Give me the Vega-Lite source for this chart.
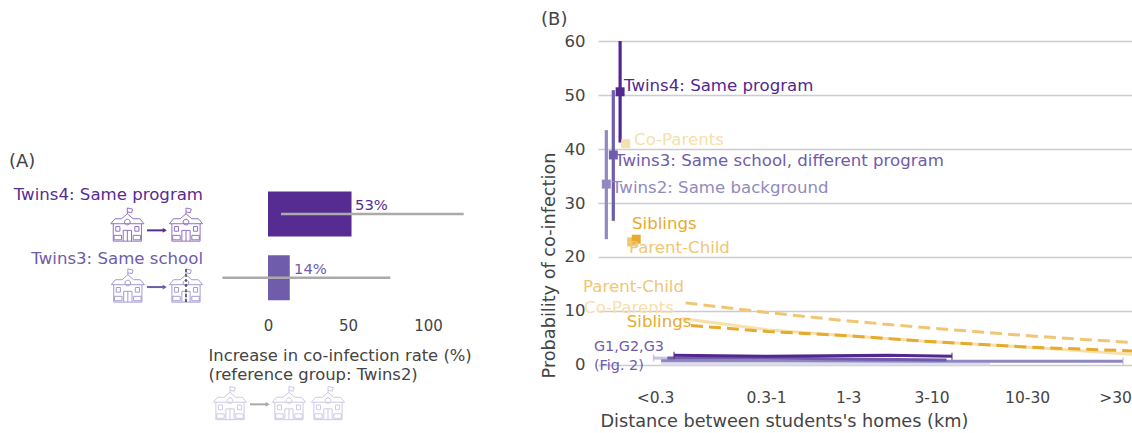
{"$schema":"https://vega.github.io/schema/vega-lite/v6.json","padding":0,"spacing":0,"background":"white","config":{"view":{"stroke":null},"font":"DejaVu Sans","text":{"font":"DejaVu Sans"},"axis":{"labelFont":"DejaVu Sans","titleFont":"DejaVu Sans"}},"hconcat":[{"width":540,"height":433,"layer":[
{"data":{"values":[{"group":"Twins4","start":0,"value":52.2,"low":0.647,"high":1.353},{"group":"Twins3","start":0,"value":13.6,"low":-0.353,"high":0.353}]},"mark":{"type":"bar","clip":false},"encoding":{"x":{"field":"start","type":"quantitative","scale":{"domain":[-167.5,170],"nice":false,"zero":false},"axis":{"values":[0,50,100],"grid":false,"domain":false,"ticks":false,"offset":-115,"labelPadding":0,"labelFontSize":15,"labelColor":"#444","labelBaseline":"top","title":["Increase in co-infection rate (%)","(reference group: Twins2)"],"titleFontSize":16.4,"titleFontWeight":"normal","titleColor":"#444","titleAlign":"left","titleAnchor":"start","titleBaseline":"top","titleLineHeight":19.5,"titleX":208,"titleY":29}},"x2":{"field":"value"},"y":{"field":"low","type":"quantitative","scale":{"domain":[-2.437,4.36],"nice":false,"zero":false},"axis":null},"y2":{"field":"high"},"color":{"field":"group","type":"nominal","scale":{"domain":["Twins4","Twins3"],"range":["#572c92","#6f5cab"]},"legend":null}}},
{"data":{"values":[{"group":"Twins4","low":8.1,"high":122.3,"y":1},{"group":"Twins3","low":-28.5,"high":76.4,"y":0}]},"mark":{"type":"rule","color":"#aaaaaa","strokeWidth":2.5},"encoding":{"x":{"field":"low","type":"quantitative"},"x2":{"field":"high"},"y":{"field":"y","type":"quantitative"}}},
{"data":{"values":[{"icon":"Twins4 from","x":-87.9,"y":0.835,"group":"Twins4"},{"icon":"Twins4 to","x":-51.25,"y":0.835,"group":"Twins4"},{"icon":"Twins3 from","x":-87.6,"y":-0.122,"group":"Twins3"},{"icon":"Twins3 to","x":-51.25,"y":-0.122,"group":"Twins3"},{"icon":"Ref from","x":-23.75,"y":-1.967,"group":"Ref"},{"icon":"Ref to a","x":13.1,"y":-1.967,"group":"Ref"},{"icon":"Ref to b","x":37.5,"y":-1.967,"group":"Ref"}]},"mark":{"type":"point","filled":false,"strokeWidth":1,"opacity":1,"size":1100,"shape":"M-1,-0.05 L-0.75,-0.35 H-0.35 L0,-0.65 L0.35,-0.35 H0.75 L1,-0.05 Z M-0.85,-0.05 V1 H0.85 V-0.05 M-0.25,1 V0.35 H0.25 V1 M0,0.35 V1 M0.17,-0.15 A0.17,0.17 0 1 1 -0.17,-0.15 A0.17,0.17 0 1 1 0.17,-0.15 Z M-0.7,0.12 H-0.45 V0.4 H-0.7 Z M0.45,0.12 H0.7 V0.4 H0.45 Z M-0.8,0.65 H-0.35 V0.92 H-0.8 Z M0.35,0.65 H0.8 V0.92 H0.35 Z M0,-0.65 V-1 L0.32,-0.93 L0.26,-0.72 L0,-0.76"},"encoding":{"x":{"field":"x","type":"quantitative"},"y":{"field":"y","type":"quantitative"},"stroke":{"field":"group","type":"nominal","scale":{"domain":["Twins4","Twins3","Ref"],"range":["#8f73c2","#a39bd2","#cdc9e6"]},"legend":null}}},
{"data":{"values":[{"group":"Twins4","from":-75.6,"to":-64.5,"y":0.744},{"group":"Twins3","from":-75.6,"to":-64.5,"y":-0.146},{"group":"Ref","from":-11.25,"to":-0.2,"y":-1.987}]},"mark":{"type":"rule","strokeWidth":2},"encoding":{"x":{"field":"from","type":"quantitative"},"x2":{"field":"to"},"y":{"field":"y","type":"quantitative"},"color":{"field":"group","type":"nominal","scale":{"domain":["Twins4","Twins3","Ref"],"range":["#572c92","#6f5cab","#aaaaaa"]},"legend":null}}},
{"data":{"values":[{"group":"Twins4","x":-64.5,"y":0.744},{"group":"Twins3","x":-64.5,"y":-0.146},{"group":"Ref","x":-0.2,"y":-1.987}]},"mark":{"type":"point","filled":true,"opacity":1,"shape":"triangle-right","size":22},"encoding":{"x":{"field":"x","type":"quantitative"},"y":{"field":"y","type":"quantitative"},"color":{"field":"group","type":"nominal","scale":{"domain":["Twins4","Twins3","Ref"],"range":["#572c92","#6f5cab","#aaaaaa"]},"legend":null}}},
{"data":{"values":[{"x":-51.25,"top":0.137,"bottom":-0.397}]},"mark":{"type":"rule","color":"black","strokeWidth":1,"strokeDash":[3,2]},"encoding":{"x":{"field":"x","type":"quantitative"},"y":{"field":"top","type":"quantitative"},"y2":{"field":"bottom"}}},
{"data":{"values":[{"label":"Twins4: Same program","group":"Twins4","x":-40.6,"y":1.298},{"label":"Twins3: Same school","group":"Twins3","x":-40.6,"y":0.294}]},"mark":{"type":"text","align":"right","baseline":"middle","fontSize":16.6},"encoding":{"text":{"field":"label"},"x":{"field":"x","type":"quantitative"},"y":{"field":"y","type":"quantitative"},"color":{"field":"group","type":"nominal","scale":{"domain":["Twins4","Twins3"],"range":["#572c92","#6f5cab"]},"legend":null}}},
{"data":{"values":[{"label":"53%","group":"Twins4","x":54.4,"y":1.126},{"label":"14%","group":"Twins3","x":16.25,"y":0.121}]},"mark":{"type":"text","align":"left","baseline":"middle","fontSize":14.8},"encoding":{"text":{"field":"label"},"x":{"field":"x","type":"quantitative"},"y":{"field":"y","type":"quantitative"},"color":{"field":"group","type":"nominal","scale":{"domain":["Twins4","Twins3"],"range":["#572c92","#6f5cab"]},"legend":null}}},
{"data":{"values":[{"label":"(A)","x":-161.9,"y":1.816}]},"mark":{"type":"text","align":"left","baseline":"middle","fontSize":18,"color":"#444"},"encoding":{"text":{"field":"label"},"x":{"field":"x","type":"quantitative"},"y":{"field":"y","type":"quantitative"}}}
],"resolve":{"scale":{"color":"independent"}}},
{"width":534,"height":433,"layer":[
{"data":{"values":[{"group":"G0","series":"band","x":-0.935,"y":0.2},{"group":"G0","series":"band","x":1.0,"y":0.2}]},"mark":{"type":"line","color":"#dddcea","strokeWidth":3},"encoding":{"x":{"field":"x","type":"quantitative","scale":{"domain":[-1.306,1.835],"nice":false,"zero":false},"axis":{"values":[-0.97,-0.318,0.165,0.656,1.218,1.735],"labelExpr":"{'-0.97':'<0.3','-0.318':'0.3-1','0.165':'1-3','0.656':'3-10','1.218':'10-30','1.735':'>30'}[datum.value]","grid":false,"domain":false,"ticks":false,"offset":-43,"labelPadding":0,"labelFontSize":15.5,"labelColor":"#444","labelBaseline":"top","labelFlush":false,"labelOverlap":false,"title":"Distance between students's homes (km)","titleFontSize":17.7,"titleFontWeight":"normal","titleColor":"#444","titleAnchor":"start","titleAlign":"left","titleBaseline":"middle","titleX":2,"titleY":31}},"y":{"field":"y","type":"quantitative","scale":{"domain":[-12.6,67.6],"nice":false,"zero":false},"axis":{"values":[0,10,20,30,40,50,60],"grid":true,"gridColor":"#cccccc","gridWidth":1.5,"domain":false,"ticks":false,"labelPadding":13,"labelFontSize":16.5,"labelColor":"#444","title":"Probability of co-infection","titleFontSize":17.7,"titleFontWeight":"normal","titleColor":"#444","titleBaseline":"middle","titleX":-49,"titleY":265,"titleAnchor":"middle"}}}},
{"data":{"values":[{"group":"G1pale","x":-0.979,"y":1.3},{"group":"G1pale","x":-0.85,"y":1.2}]},"mark":{"type":"line","color":"#c5c1e0","strokeWidth":3},"encoding":{"x":{"field":"x","type":"quantitative"},"y":{"field":"y","type":"quantitative"}}},
{"data":{"values":[{"x":-0.935,"y":0.8},{"x":-0.306,"y":0.8},{"x":0.665,"y":0.7},{"x":1.782,"y":0.7}]},"mark":{"type":"line","color":"#8f87c1","strokeWidth":3},"encoding":{"x":{"field":"x","type":"quantitative"},"y":{"field":"y","type":"quantitative"}}},
{"data":{"values":[{"x":-0.898,"y":1.3},{"x":-0.306,"y":1.3},{"x":0.165,"y":1.1},{"x":0.744,"y":0.9}]},"mark":{"type":"line","color":"#6f5cab","strokeWidth":3},"encoding":{"x":{"field":"x","type":"quantitative"},"y":{"field":"y","type":"quantitative"}}},
{"data":{"values":[{"x":-0.859,"y":1.8},{"x":-0.306,"y":1.6},{"x":0.4,"y":1.8},{"x":0.776,"y":1.6}]},"mark":{"type":"line","color":"#54278f","strokeWidth":3},"encoding":{"x":{"field":"x","type":"quantitative"},"y":{"field":"y","type":"quantitative"}}},
{"data":{"values":[{"group":"G3","x":-0.859,"y":1.8},{"group":"G3","x":0.776,"y":1.6},{"group":"G1","x":1.782,"y":0.7},{"group":"G1","x":-0.979,"y":1.3}]},"mark":{"type":"tick","orient":"vertical","size":7,"thickness":1.5},"encoding":{"x":{"field":"x","type":"quantitative"},"y":{"field":"y","type":"quantitative"},"color":{"field":"group","type":"nominal","scale":{"domain":["G3","G1"],"range":["#54278f","#b5b0d8"]},"legend":null}}},
{"data":{"values":[{"x":-0.791,"y":11.5},{"x":-0.306,"y":9.7},{"x":0.168,"y":8.15},{"x":0.665,"y":6.8},{"x":1.229,"y":5.4},{"x":1.835,"y":4.15}]},"mark":{"type":"line","color":"#f0c674","strokeWidth":3,"strokeDash":[12,6]},"encoding":{"x":{"field":"x","type":"quantitative"},"y":{"field":"y","type":"quantitative"}}},
{"data":{"values":[{"x":-0.814,"y":8.6},{"x":-0.306,"y":6.5},{"x":0.168,"y":5.4},{"x":0.665,"y":4.3},{"x":1.229,"y":3.3},{"x":1.835,"y":2.0}]},"mark":{"type":"line","color":"#f6e0ab","strokeWidth":3},"encoding":{"x":{"field":"x","type":"quantitative"},"y":{"field":"y","type":"quantitative"}}},
{"data":{"values":[{"x":-0.759,"y":7.3},{"x":-0.306,"y":6.2},{"x":0.168,"y":5.4},{"x":0.665,"y":4.3},{"x":1.229,"y":3.3},{"x":1.835,"y":2.6}]},"mark":{"type":"line","color":"#e6ab2e","strokeWidth":3,"strokeDash":[12,6]},"encoding":{"x":{"field":"x","type":"quantitative"},"y":{"field":"y","type":"quantitative"}}},
{"data":{"values":[{"group":"Twins2","x":-1.257,"low":23.3,"high":43.5},{"group":"Twins3","x":-1.216,"low":26.7,"high":50.9},{"group":"Twins4","x":-1.176,"low":41.2,"high":60}]},"mark":{"type":"rule","strokeWidth":3.2},"encoding":{"x":{"field":"x","type":"quantitative"},"y":{"field":"low","type":"quantitative"},"y2":{"field":"high"},"color":{"field":"group","type":"nominal","scale":{"domain":["Twins2","Twins3","Twins4"],"range":["#908ac0","#6f5cab","#54278f"]},"legend":null}}},
{"data":{"values":[{"group":"Co-Parents","x":-1.143,"y":41},{"group":"Parent-Child","x":-1.108,"y":22.8},{"group":"Siblings","x":-1.081,"y":23.3},{"group":"Twins2","x":-1.257,"y":33.5},{"group":"Twins3","x":-1.216,"y":38.9},{"group":"Twins4","x":-1.176,"y":50.6}]},"mark":{"type":"point","shape":"square","filled":true,"opacity":1,"size":80},"encoding":{"x":{"field":"x","type":"quantitative"},"y":{"field":"y","type":"quantitative"},"color":{"field":"group","type":"nominal","scale":{"domain":["Twins4","Twins3","Twins2","Co-Parents","Siblings","Parent-Child"],"range":["#54278f","#6f5cab","#908ac0","#f6e0ab","#e6ab2e","#f0c674"]},"legend":null}}},
{"data":{"values":[{"label":"Twins4: Same program","group":"Twins4","x":-1.153,"y":51.67},{"label":"Co-Parents","group":"Co-Parents","x":-1.094,"y":41.67},{"label":"Twins3: Same school, different program","group":"Twins3","x":-1.206,"y":37.8},{"label":"Twins2: Same background","group":"Twins2","x":-1.224,"y":32.8},{"label":"Siblings","group":"Siblings","x":-1.106,"y":26.1},{"label":"Parent-Child","group":"Parent-Child","x":-1.124,"y":21.67},{"label":"Parent-Child","group":"Parent-Child","x":-1.394,"y":14.5},{"label":"Co-Parents","group":"Co-Parents","x":-1.388,"y":10.6},{"label":"Siblings","group":"Siblings","x":-1.137,"y":7.9}]},"mark":{"type":"text","align":"left","baseline":"middle","fontSize":16.6},"encoding":{"text":{"field":"label"},"x":{"field":"x","type":"quantitative"},"y":{"field":"y","type":"quantitative"},"color":{"field":"group","type":"nominal","scale":{"domain":["Twins4","Twins3","Twins2","Co-Parents","Siblings","Parent-Child"],"range":["#54278f","#6f5cab","#908ac0","#f6e0ab","#e6ab2e","#f0c674"]},"legend":null}}},
{"data":{"values":[{"label":"G1,G2,G3","x":-1.33,"y":3.33},{"label":"(Fig. 2)","x":-1.33,"y":-0.13}]},"mark":{"type":"text","align":"left","baseline":"middle","fontSize":14.4,"color":"#6f5cab"},"encoding":{"text":{"field":"label"},"x":{"field":"x","type":"quantitative"},"y":{"field":"y","type":"quantitative"}}},
{"data":{"values":[{"label":"(B)","x":-1.641,"y":63.9}]},"mark":{"type":"text","align":"left","baseline":"middle","fontSize":18,"color":"#444"},"encoding":{"text":{"field":"label"},"x":{"field":"x","type":"quantitative"},"y":{"field":"y","type":"quantitative"}}}
],"resolve":{"scale":{"color":"independent"}}}]}
